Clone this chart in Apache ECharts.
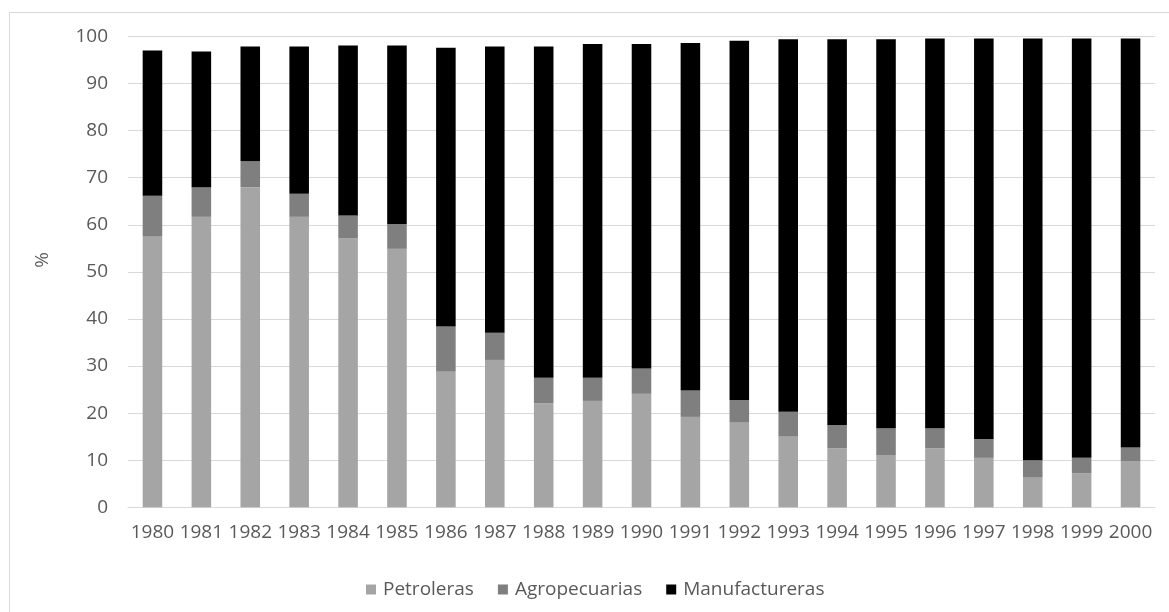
<!DOCTYPE html>
<html>
<head>
<meta charset="utf-8">
<script src="https://cdn.jsdelivr.net/npm/echarts@6/dist/echarts.min.js"></script>
<style>
html,body{margin:0;padding:0;background:#fff;}
#chart{width:1169px;height:612px;}
</style>
</head>
<body>
<div id="chart"></div>
<script>
var years = ['1980','1981','1982','1983','1984','1985','1986','1987','1988','1989','1990','1991','1992','1993','1994','1995','1996','1997','1998','1999','2000'];
var petroleras = [57.6, 61.7, 68.0, 61.7, 57.1, 54.9, 28.8, 31.3, 22.1, 22.6, 24.1, 19.2, 18.1, 15.0, 12.5, 11.0, 12.5, 10.5, 6.3, 7.2, 9.7];
var agropecuarias = [8.6, 6.3, 5.5, 4.9, 4.9, 5.3, 9.6, 5.8, 5.4, 4.9, 5.4, 5.6, 4.7, 5.3, 5.0, 5.8, 4.3, 4.0, 3.7, 3.3, 3.0];
var manufactureras = [30.8, 28.8, 24.4, 31.3, 36.1, 37.9, 59.2, 60.8, 70.4, 70.9, 68.9, 73.8, 76.3, 79.1, 81.9, 82.6, 82.8, 85.1, 89.6, 89.1, 86.9];
var seriesNames = ['Petroleras', 'Agropecuarias', 'Manufactureras'];
var yAxisTitle = '%';

var FONT = '"Open Sans", sans-serif';
var TXT = '#595959';
var chart = echarts.init(document.getElementById('chart'), null, {renderer: 'canvas'});
var option = {
  backgroundColor: '#ffffff',
  animation: false,
  textStyle: {fontFamily: FONT},
  graphic: [{
    type: 'rect', left: 7, top: 10, silent: true,
    shape: {width: 1200, height: 700},
    style: {fill: 'none', stroke: '#d9d9d9', lineWidth: 1}
  }],
  grid: {left: 128, right: 14, top: 36.5, bottom: 104.7, containLabel: false},
  legend: {
    left: 361, top: 575,
    icon: 'rect', itemWidth: 10, itemHeight: 10, itemGap: 24,
    textStyle: {color: TXT, fontSize: 19, fontFamily: FONT, padding: [0, 0, 0, 2]},
    data: seriesNames
  },
  xAxis: {
    type: 'category', data: years,
    axisLine: {lineStyle: {color: '#d9d9d9', width: 1}},
    axisTick: {show: false},
    axisLabel: {color: TXT, fontSize: 19, fontFamily: FONT, margin: 16, interval: 0}
  },
  yAxis: {
    type: 'value', min: 0, max: 100, interval: 10,
    name: yAxisTitle, nameLocation: 'middle', nameGap: 76,
    nameTextStyle: {color: TXT, fontSize: 19, fontFamily: FONT, padding: [0, 0, 0, 24]},
    axisLine: {show: false}, axisTick: {show: false},
    axisLabel: {color: TXT, fontSize: 19, fontFamily: FONT, margin: 20},
    splitLine: {lineStyle: {color: '#d9d9d9', width: 1}}
  },
  series: [
    {name: seriesNames[0], type: 'bar', stack: 'total', data: petroleras, barWidth: '40%', itemStyle: {color: '#a5a5a5'}},
    {name: seriesNames[1], type: 'bar', stack: 'total', data: agropecuarias, barWidth: '40%', itemStyle: {color: '#7f7f7f'}},
    {name: seriesNames[2], type: 'bar', stack: 'total', data: manufactureras, barWidth: '40%', itemStyle: {color: '#000000'}}
  ]
};
chart.setOption(option);
</script>
</body>
</html>
